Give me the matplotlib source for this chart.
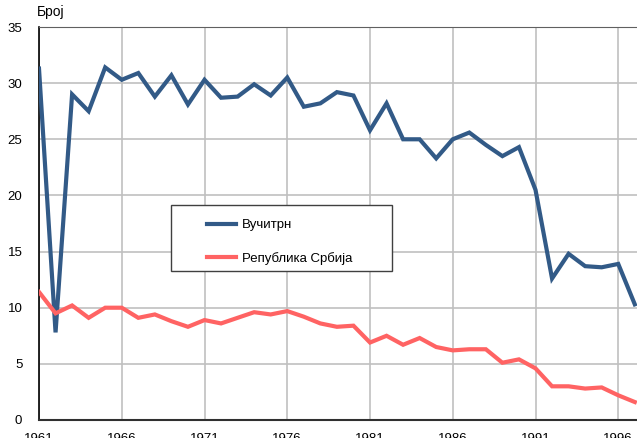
import matplotlib
matplotlib.use("Agg")
import matplotlib.pyplot as plt
from matplotlib.patches import Rectangle

plt.rcParams["font.family"] = ["Liberation Sans", "DejaVu Sans"]

# Подаци
godine = list(range(1961, 1998))
vucitrn = [31.3, 7.8, 29.0, 27.5, 31.4, 30.3, 30.9, 28.8, 30.7, 28.1,
           30.3, 28.7, 28.8, 29.9, 28.9, 30.5, 27.9, 28.2, 29.2, 28.9,
           25.8, 28.2, 25.0, 25.0, 23.3, 25.0, 25.6, 24.5, 23.5, 24.3,
           20.5, 12.6, 14.8, 13.7, 13.6, 13.9, 10.3]
srbija = [11.4, 9.5, 10.2, 9.1, 10.0, 10.0, 9.1, 9.4, 8.8, 8.3,
          8.9, 8.6, 9.1, 9.6, 9.4, 9.7, 9.2, 8.6, 8.3, 8.4,
          6.9, 7.5, 6.7, 7.3, 6.5, 6.2, 6.3, 6.3, 5.1, 5.4,
          4.6, 3.0, 3.0, 2.8, 2.9, 2.2, 1.6]
xticks = list(range(1961, 2001, 5))
yticks = list(range(0, 36, 5))

W, H = 637, 438
fig = plt.figure(figsize=(W / 100, H / 100), dpi=100)
ax = fig.add_axes([39 / W, 18 / H, 1 - 39 / W, 393 / H])

ax.plot(godine, vucitrn, color="#325a87", linewidth=3, label="Вучитрн",
        solid_joinstyle="miter", zorder=3)
ax.plot(godine, srbija, color="#ff6363", linewidth=3, label="Република Србија",
        solid_joinstyle="miter", zorder=3)

ax.set_xlim(1961, 1961 + (W - 39) / 16.55)
ax.set_ylim(0, 35)
ax.set_xticks(xticks)
ax.set_yticks(yticks)
ax.tick_params(length=0, labelsize=9.5)
ax.tick_params(axis="y", pad=12)
ax.tick_params(axis="x", pad=9)
ax.grid(color="#c0c0c0", linewidth=1.2)
ax.set_axisbelow(True)

ax.spines["right"].set_visible(False)
ax.spines["top"].set_color("#606060")
ax.spines["left"].set_color("black")
ax.spines["bottom"].set_color("#303030")
ax.spines["left"].set_linewidth(1.2)
ax.spines["bottom"].set_linewidth(1.5)

fig.text(37 / W, 1 - 5 / H, "Број", fontsize=10, va="top", ha="left")

# оквир легенде
okvir = Rectangle((171 / W, 1 - 271 / H), 221 / W, 66 / H,
                  transform=fig.transFigure, facecolor="white",
                  edgecolor="#404040", linewidth=1.0, zorder=4)
fig.patches.append(okvir)

leg = fig.legend(loc="upper left", bbox_to_anchor=(207 / W, 1 - 219 / H),
                 fontsize=9.5, frameon=False,
                 handlelength=2.2, handletextpad=0.45, labelspacing=1.55,
                 borderpad=0, borderaxespad=0)
leg.set_zorder(5)

fig.savefig("out.png", dpi=100)
